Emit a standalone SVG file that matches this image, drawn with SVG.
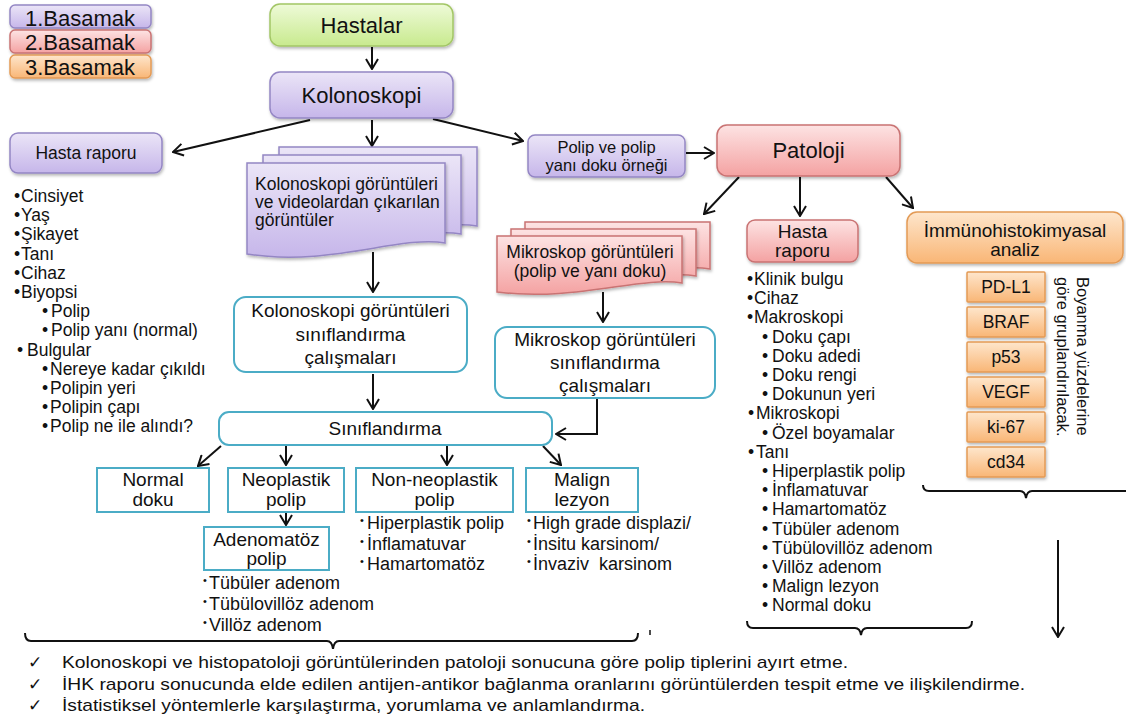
<svg xmlns="http://www.w3.org/2000/svg" width="1126" height="720" viewBox="0 0 1126 720">
<defs>
<linearGradient id="gPu" x1="0" y1="0" x2="0" y2="1"><stop offset="0" stop-color="#ebe5f7"/><stop offset="1" stop-color="#c6b6ea"/></linearGradient>
<linearGradient id="gPk" x1="0" y1="0" x2="0" y2="1"><stop offset="0" stop-color="#fde3e3"/><stop offset="1" stop-color="#f4a2a2"/></linearGradient>
<linearGradient id="gGr" x1="0" y1="0" x2="0" y2="1"><stop offset="0" stop-color="#eefad8"/><stop offset="1" stop-color="#c8ea8e"/></linearGradient>
<linearGradient id="gOr" x1="0" y1="0" x2="0" y2="1"><stop offset="0" stop-color="#fee6cc"/><stop offset="1" stop-color="#f9b676"/></linearGradient>
<filter id="sh" x="-10%" y="-20%" width="125%" height="150%"><feDropShadow dx="1" dy="2" stdDeviation="1.5" flood-color="#000" flood-opacity="0.28"/></filter>
<marker id="ah" viewBox="0 0 12 14" refX="11" refY="7" markerWidth="12" markerHeight="14" markerUnits="userSpaceOnUse" orient="auto"><path d="M1,1 L11,7 L1,13" fill="none" stroke="#111" stroke-width="2"/></marker>
</defs>
<style>
text{font-family:"Liberation Sans",Arial,sans-serif;fill:#111}
.c{text-anchor:middle}
.ln{stroke:#111;stroke-width:2;fill:none}
.arr{marker-end:url(#ah)}
.pu{fill:url(#gPu);stroke:#9486c4;stroke-width:1.5;filter:url(#sh)}
.pk{fill:url(#gPk);stroke:#c97373;stroke-width:1.5;filter:url(#sh)}
.gr{fill:url(#gGr);stroke:#a3c666;stroke-width:1.5;filter:url(#sh)}
.or{fill:url(#gOr);stroke:#e39a55;stroke-width:1.5;filter:url(#sh)}
.tl{fill:#fff;stroke:#4bacc6;stroke-width:2}
.f22{font-size:22px}
.f19{font-size:19px}
.f18{font-size:18px}
.f17{font-size:17.5px}
.f16{font-size:16.5px}
.bt{font-size:17px}
.ck{font-family:"DejaVu Sans",sans-serif;font-size:17px;font-weight:bold}
</style>
<rect width="1126" height="720" fill="#fff"/>

<g id="legend">
<rect class="pu" x="10" y="5" width="141" height="23" rx="5"/>
<text class="c f22" x="80" y="26">1.Basamak</text>
<rect class="pk" x="10" y="30" width="141" height="23" rx="5"/>
<text class="c f22" x="80" y="50">2.Basamak</text>
<rect class="or" x="10" y="55" width="141" height="23" rx="5"/>
<text class="c f22" x="80" y="75">3.Basamak</text>
</g>

<g id="connectors">
<path class="ln arr" d="M372,47 V69"/>
<path class="ln arr" d="M310,120 L173,152"/>
<path class="ln arr" d="M372,120 V146"/>
<path class="ln arr" d="M433,119 L523,141"/>
<path class="ln arr" d="M686,153 H714"/>
<path class="ln arr" d="M739,177 L704,214"/>
<path class="ln arr" d="M800,177 V216"/>
<path class="ln arr" d="M886,177 L913,208"/>
<path class="ln arr" d="M373,252 V292"/>
<path class="ln arr" d="M603,292 V322"/>
<path class="ln arr" d="M373,374 V409"/>
<path class="ln arr" d="M597,399 V434 H556"/>
<path class="ln arr" d="M221,446 L198,466"/>
<path class="ln arr" d="M286,446 V465"/>
<path class="ln arr" d="M447,446 V465"/>
<path class="ln arr" d="M543,446 L561,465"/>
<path class="ln arr" d="M286,512 V525"/>
<path class="ln arr" d="M1058,540 V637"/>
<path class="ln" d="M923,485 Q923,491 929,491 H1020 Q1025,491 1026,498 Q1027,491 1032,491 H1130"/>
<path class="ln" d="M747,621 Q747,628 753,628 H855 Q860,628 861,635 Q862,628 867,628 H966 Q972,628 972,621"/>
<path class="ln" d="M25,633 Q25,641 31,641 H327 Q332,641 333,649 Q334,641 339,641 H632 Q638,641 638,633"/>
<path class="ln" d="M650,630 V635" style="stroke-width:1.5"/>
</g>

<g id="hastalar">
<rect class="gr" x="270" y="4" width="183" height="42" rx="10"/>
<text class="c f22" x="361.5" y="33">Hastalar</text>
</g>

<g id="kolonoskopi">
<rect class="pu" x="270" y="72" width="183" height="46" rx="10"/>
<text class="c f22" x="361.5" y="103">Kolonoskopi</text>
</g>

<g id="hasta-raporu-1">
<rect class="pu" x="10" y="133" width="152" height="40" rx="8"/>
<text class="c f17" x="86" y="159">Hasta raporu</text>
</g>

<g id="hasta-raporu-1-list" class="f17">
<text x="14" y="202">•<tspan x="21">Cinsiyet</tspan></text>
<text x="14" y="221.2">•<tspan x="21">Yaş</tspan></text>
<text x="14" y="240.4">•<tspan x="21">Şikayet</tspan></text>
<text x="14" y="259.6">•<tspan x="21">Tanı</tspan></text>
<text x="14" y="278.8">•<tspan x="21">Cihaz</tspan></text>
<text x="14" y="298">•<tspan x="21">Biyopsi</tspan></text>
<text x="42" y="317.2">•<tspan x="51">Polip</tspan></text>
<text x="42" y="336.4">•<tspan x="51">Polip yanı (normal)</tspan></text>
<text x="17" y="355.6">•<tspan x="27">Bulgular</tspan></text>
<text x="42" y="374.8">•<tspan x="50">Nereye kadar çıkıldı</tspan></text>
<text x="42" y="394">•<tspan x="50">Polipin yeri</tspan></text>
<text x="42" y="413.2">•<tspan x="50">Polipin çapı</tspan></text>
<text x="42" y="432.4">•<tspan x="50">Polip ne ile alındı?</tspan></text>
</g>

<g id="kolonoskopi-goruntuleri">
<path class="pu" d="M279,147 H477 V226 C432,218 362,250 279,238 Z"/>
<path class="pu" d="M263,155 H461 V234 C416,226 346,258 263,246 Z"/>
<path class="pu" d="M247,163 H445 V243 C400,235 330,267 247,254 Z"/>
<text class="f17" x="255" y="190">Kolonoskopi görüntüleri</text>
<text class="f17" x="255" y="208">ve videolardan çıkarılan</text>
<text class="f17" x="255" y="226">görüntüler</text>
</g>

<g id="polip-ornegi">
<rect class="pu" x="528" y="135" width="157" height="42" rx="7"/>
<text class="c f16" x="606.5" y="153">Polip ve polip</text>
<text class="c f16" x="606.5" y="171">yanı doku örneği</text>
</g>

<g id="patoloji">
<rect class="pk" x="717" y="125" width="183" height="51" rx="10"/>
<text class="c f22" x="808.5" y="158">Patoloji</text>
</g>

<g id="mikroskop-goruntuleri">
<path class="pk" d="M525,222 H710 V269 C668,262 603,288 525,278 Z"/>
<path class="pk" d="M511,229 H696 V276 C654,269 589,295 511,285 Z"/>
<path class="pk" d="M497,236 H682 V283 C640,276 575,302 497,292 Z"/>
<text class="c f17" x="590" y="258">Mikroskop görüntüleri</text>
<text class="c f17" x="590" y="277">(polip ve yanı doku)</text>
</g>

<g id="kolonoskopi-siniflandirma">
<rect class="tl" x="234" y="297" width="233" height="75" rx="12"/>
<text class="c f19" x="350.5" y="317">Kolonoskopi görüntüleri</text>
<text class="c f19" x="350.5" y="341">sınıflandırma</text>
<text class="c f19" x="350.5" y="364">çalışmaları</text>
</g>

<g id="mikroskop-siniflandirma">
<rect class="tl" x="495" y="327" width="220" height="71" rx="12"/>
<text class="c f19" x="605" y="346">Mikroskop görüntüleri</text>
<text class="c f19" x="605" y="369">sınıflandırma</text>
<text class="c f19" x="605" y="392">çalışmaları</text>
</g>

<g id="siniflandirma">
<rect class="tl" x="219" y="412" width="333" height="33" rx="10"/>
<text class="c f19" x="385" y="435">Sınıflandırma</text>
</g>

<g id="normal-doku">
<rect class="tl" x="97" y="468" width="112" height="44"/>
<text class="c f19" x="153" y="486">Normal</text>
<text class="c f19" x="153" y="506">doku</text>
</g>

<g id="neoplastik-polip">
<rect class="tl" x="228" y="468" width="116" height="44"/>
<text class="c f19" x="286" y="486">Neoplastik</text>
<text class="c f19" x="286" y="506">polip</text>
</g>

<g id="non-neoplastik-polip">
<rect class="tl" x="356" y="468" width="157" height="44"/>
<text class="c f19" x="434.5" y="486">Non-neoplastik</text>
<text class="c f19" x="434.5" y="506">polip</text>
</g>

<g id="malign-lezyon">
<rect class="tl" x="526" y="468" width="112" height="44"/>
<text class="c f19" x="582" y="486">Malign</text>
<text class="c f19" x="582" y="506">lezyon</text>
</g>

<g id="adenomatoz-polip">
<rect class="tl" x="204" y="527" width="125" height="43"/>
<text class="c f19" x="266.5" y="546">Adenomatöz</text>
<text class="c f19" x="266.5" y="565">polip</text>
</g>

<g id="non-neoplastik-list" class="f18">
<text x="360" y="529"><tspan font-size="11" dy="-5">•</tspan><tspan x="367" dy="5">Hiperplastik polip</tspan></text>
<text x="360" y="549.5"><tspan font-size="11" dy="-5">•</tspan><tspan x="367" dy="5">İnflamatuvar</tspan></text>
<text x="360" y="570"><tspan font-size="11" dy="-5">•</tspan><tspan x="367" dy="5">Hamartomatöz</tspan></text>
</g>

<g id="malign-list" class="f18">
<text x="527" y="529"><tspan font-size="11" dy="-5">•</tspan><tspan x="533" dy="5">High grade displazi/</tspan></text>
<text x="527" y="549.5"><tspan font-size="11" dy="-5">•</tspan><tspan x="533" dy="5">İnsitu karsinom/</tspan></text>
<text x="527" y="570"><tspan font-size="11" dy="-5">•</tspan><tspan x="533" dy="5" xml:space="preserve">İnvaziv  karsinom</tspan></text>
</g>

<g id="adenomatoz-list" class="f18">
<text x="203" y="589"><tspan font-size="11" dy="-5">•</tspan><tspan x="209" dy="5">Tübüler adenom</tspan></text>
<text x="203" y="610"><tspan font-size="11" dy="-5">•</tspan><tspan x="209" dy="5">Tübülovillöz adenom</tspan></text>
<text x="203" y="631"><tspan font-size="11" dy="-5">•</tspan><tspan x="209" dy="5">Villöz adenom</tspan></text>
</g>

<g id="hasta-raporu-2">
<rect class="pk" x="747" y="220" width="111" height="42" rx="8"/>
<text class="c f19" x="802.5" y="238">Hasta</text>
<text class="c f19" x="802.5" y="257">raporu</text>
</g>

<g id="hasta-raporu-2-list" class="f17">
<text x="747" y="285">•<tspan x="754">Klinik bulgu</tspan></text>
<text x="747" y="304.2">•<tspan x="754">Cihaz</tspan></text>
<text x="747" y="323.4">•<tspan x="754">Makroskopi</tspan></text>
<text x="762" y="342.6">•<tspan x="772">Doku çapı</tspan></text>
<text x="762" y="361.8">•<tspan x="772">Doku adedi</tspan></text>
<text x="762" y="381">•<tspan x="772">Doku rengi</tspan></text>
<text x="762" y="400.2">•<tspan x="772">Dokunun yeri</tspan></text>
<text x="748" y="419.4">•<tspan x="756">Mikroskopi</tspan></text>
<text x="762" y="438.6">•<tspan x="772">Özel boyamalar</tspan></text>
<text x="748" y="457.8">•<tspan x="756">Tanı</tspan></text>
<text x="762" y="477">•<tspan x="772">Hiperplastik polip</tspan></text>
<text x="762" y="496.2">•<tspan x="772">İnflamatuvar</tspan></text>
<text x="762" y="515.4">•<tspan x="772">Hamartomatöz</tspan></text>
<text x="762" y="534.6">•<tspan x="772">Tübüler adenom</tspan></text>
<text x="762" y="553.8">•<tspan x="772">Tübülovillöz adenom</tspan></text>
<text x="762" y="573">•<tspan x="772">Villöz adenom</tspan></text>
<text x="762" y="592.2">•<tspan x="772">Malign lezyon</tspan></text>
<text x="762" y="611.4">•<tspan x="772">Normal doku</tspan></text>
</g>

<g id="immunohistokimyasal">
<rect class="or" x="907" y="212" width="216" height="51" rx="10"/>
<text class="c f19" x="1015" y="237">İmmünohistokimyasal</text>
<text class="c f19" x="1015" y="256">analiz</text>
</g>

<g id="markers" class="f17">
<rect class="or" x="967" y="272" width="78" height="30" rx="1"/>
<text class="c" x="1006" y="293">PD-L1</text>
<rect class="or" x="967" y="307" width="78" height="30" rx="1"/>
<text class="c" x="1006" y="328">BRAF</text>
<rect class="or" x="967" y="342" width="78" height="30" rx="1"/>
<text class="c" x="1006" y="363">p53</text>
<rect class="or" x="967" y="377" width="78" height="30" rx="1"/>
<text class="c" x="1006" y="398">VEGF</text>
<rect class="or" x="967" y="412" width="78" height="30" rx="1"/>
<text class="c" x="1006" y="433">ki-67</text>
<rect class="or" x="967" y="447" width="78" height="30" rx="1"/>
<text class="c" x="1006" y="468">cd34</text>
</g>

<g id="boyanma-note" style="font-size:16.5px">
<text transform="translate(1077,277) rotate(90)">Boyanma yüzdelerine</text>
<text transform="translate(1057,277) rotate(90)">göre gruplandırılacak.</text>
</g>

<g id="goals">
<text class="ck" x="28" y="668">✓</text>
<text class="ck" x="28" y="690">✓</text>
<text class="ck" x="28" y="711">✓</text>
<text class="bt" x="62" y="668" textLength="786" lengthAdjust="spacingAndGlyphs">Kolonoskopi ve histopatoloji görüntülerinden patoloji sonucuna göre polip tiplerini ayırt etme.</text>
<text class="bt" x="62" y="690" textLength="963" lengthAdjust="spacingAndGlyphs">İHK raporu sonucunda elde edilen antijen-antikor bağlanma oranlarını görüntülerden tespit etme ve ilişkilendirme.</text>
<text class="bt" x="62" y="711" textLength="583" lengthAdjust="spacingAndGlyphs">İstatistiksel yöntemlerle karşılaştırma, yorumlama ve anlamlandırma.</text>
</g>
</svg>
